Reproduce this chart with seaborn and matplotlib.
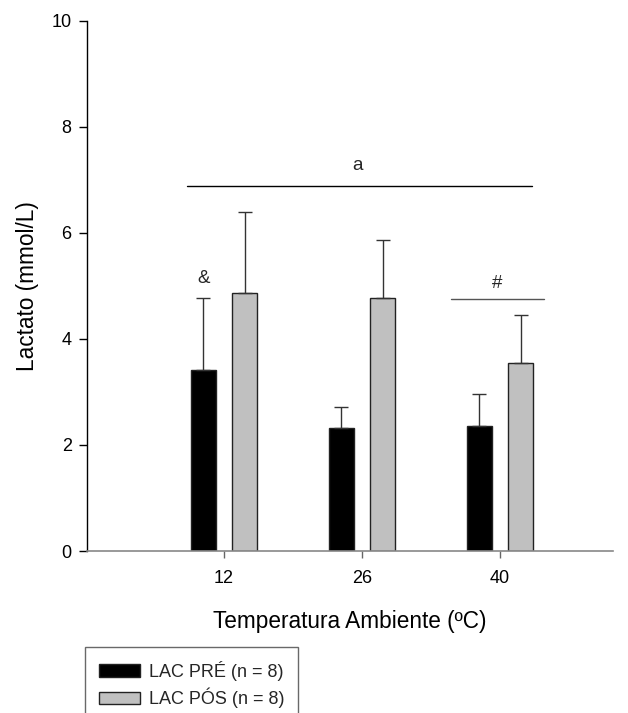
import matplotlib
matplotlib.use("Agg")
import matplotlib.pyplot as plt
import seaborn as sns
import pandas as pd

temperatures = ["12", "26", "40"]
lac_pre = [3.42, 2.33, 2.35]
lac_pre_err = [1.35, 0.39, 0.61]
lac_pos = [4.87, 4.78, 3.54]
lac_pos_err = [1.53, 1.09, 0.92]
series_names = ["LAC PRÉ (n = 8)", "LAC PÓS (n = 8)"]

df = pd.DataFrame({
    "temp": temperatures * 2,
    "val": lac_pre + lac_pos,
    "err": lac_pre_err + lac_pos_err,
    "serie": [series_names[0]] * 3 + [series_names[1]] * 3,
})

sns.set_theme(style="ticks")
plt.rcParams["font.family"] = ["Liberation Sans", "DejaVu Sans"]

fig = plt.figure(figsize=(6.28, 7.13), dpi=100)
ax = fig.add_axes([87 / 628, 1 - 551 / 713, (613 - 87) / 628, (551 - 21) / 713])

sns.barplot(data=df, x="temp", y="val", hue="serie", order=temperatures,
            hue_order=series_names, palette=["black", "#c0c0c0"],
            width=0.6, gap=0.4, errorbar=None, edgecolor="#222222",
            linewidth=1.0, ax=ax, legend=True)

# error bars (upward only) at bar centres
patches = [p for p in ax.patches if p.get_height() > 0 and p.get_width() < 1]
for p, e in zip(patches, lac_pre_err + lac_pos_err):
    xc = p.get_x() + p.get_width() / 2
    h = p.get_height()
    ax.errorbar([xc], [h], yerr=[[0], [e]], fmt="none", ecolor="#333333",
                elinewidth=1.0, capsize=5, capthick=1.0, zorder=3)

ax.set_ylim(0, 10)
ax.set_xlim(-0.993, 2.82)
ax.set_yticks([0, 2, 4, 6, 8, 10])
ax.set_xlabel("Temperatura Ambiente (ºC)", fontsize=16.3, labelpad=16, color="black")
ax.set_ylabel("Lactato (mmol/L)", fontsize=16.3, labelpad=9, color="black")
ax.tick_params(axis="both", labelsize=13, colors="black", width=1.0)
ax.tick_params(axis="y", length=6, pad=5)
ax.tick_params(axis="x", length=5, pad=9, color="#666666")
for s in ["top", "right"]:
    ax.spines[s].set_visible(False)
ax.spines["left"].set_color("black")
ax.spines["bottom"].set_color("#888888")
ax.spines["left"].set_linewidth(1.0)
ax.spines["bottom"].set_linewidth(1.2)

# annotations
ax.plot([-0.268, 2.232], [6.89, 6.89], color="black", lw=1.0)
ax.text(0.97, 7.28, "a", ha="center", va="center", fontsize=13.5)
ax.plot([1.645, 2.319], [4.76, 4.76], color="#555555", lw=1.0)
ax.text(1.98, 5.04, "#", ha="center", va="center", fontsize=13.5)
ax.text(-0.145, 5.15, "&", ha="center", va="center", fontsize=13.5)

handles, labels = ax.get_legend_handles_labels()
ax.get_legend().remove()
leg = fig.legend(handles, labels, loc="upper left",
                 bbox_to_anchor=(85 / 628, 1 - 647 / 713), fontsize=13,
                 frameon=True, fancybox=False, edgecolor="#444444",
                 handlelength=2.3, handleheight=0.7, borderpad=0.75,
                 labelspacing=0.4, handletextpad=0.5, borderaxespad=0)
leg.get_frame().set_linewidth(1.0)

fig.savefig("out.png", dpi=100)
